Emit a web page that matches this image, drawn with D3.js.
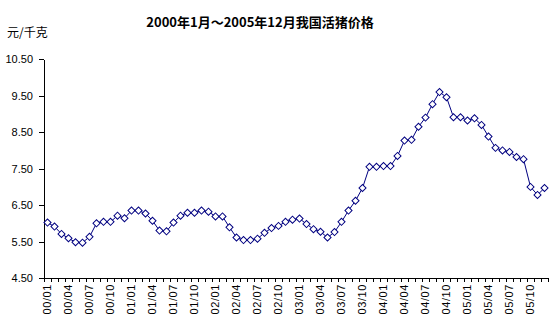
<!DOCTYPE html>
<html>
<head>
<meta charset="utf-8">
<script src="https://cdn.jsdelivr.net/npm/d3@7/dist/d3.min.js"></script>
<style>
  html, body { margin: 0; padding: 0; background: #fff; }
  svg { display: block; }
</style>
</head>
<body>
<svg id="chart" width="552" height="324"></svg>
<script>
// Live hog price, monthly, Jan 2000 – Dec 2005 (yuan per kg)
const titleText = "2000年1月～2005年12月我国活猪价格";
const unitText = "元/千克";
const years = ["00", "01", "02", "03", "04", "05"];
const months = ["01", "02", "03", "04", "05", "06", "07", "08", "09", "10", "11", "12"];
const categories = years.flatMap(y => months.map(m => y + "/" + m));
const prices = [
  6.02, 5.91, 5.71, 5.59, 5.48, 5.47, 5.63, 6.00, 6.04, 6.04, 6.21, 6.14,
  6.35, 6.35, 6.27, 6.07, 5.80, 5.78, 6.02, 6.21, 6.29, 6.29, 6.35, 6.32,
  6.19, 6.19, 5.89, 5.61, 5.54, 5.54, 5.58, 5.74, 5.87, 5.93, 6.04, 6.10,
  6.13, 5.98, 5.84, 5.77, 5.61, 5.76, 6.04, 6.35, 6.62, 6.97, 7.55, 7.55,
  7.57, 7.57, 7.85, 8.27, 8.29, 8.65, 8.90, 9.27, 9.60, 9.46, 8.91, 8.91,
  8.82, 8.88, 8.70, 8.38, 8.07, 8.00, 7.96, 7.82, 7.76, 7.00, 6.78, 6.97
];
const yTicks = [4.5, 5.5, 6.5, 7.5, 8.5, 9.5, 10.5];

const svg = d3.select("#chart");
const plotLeft = 44, plotRight = 548, plotTop = 59.3, plotBottom = 278;

const x = d3.scaleBand().domain(categories).range([plotLeft, plotRight]).padding(0);
const xEdge = d3.scaleLinear().domain([0, categories.length]).range([plotLeft, plotRight]);
const y = d3.scaleLinear().domain([4.5, 10.5]).range([plotBottom, plotTop]);
const cx = d => x(d) + x.bandwidth() / 2;

// Title and unit
svg.append("text")
  .attr("x", 260).attr("y", 27)
  .attr("text-anchor", "middle")
  .style("font-family", "'Noto Sans CJK SC', sans-serif")
  .style("font-weight", "bold")
  .style("font-size", "13px")
  .text(titleText);

svg.append("text")
  .attr("x", 7).attr("y", 37)
  .style("font-family", "'Noto Sans CJK SC', sans-serif")
  .style("font-size", "12px")
  .text(unitText);

// Y axis
const yAxis = svg.append("g")
  .attr("transform", `translate(${plotLeft},0)`)
  .call(d3.axisLeft(y).tickValues(yTicks).tickFormat(d3.format(".2f")).tickSize(5).tickPadding(6).tickSizeOuter(0));
yAxis.selectAll("text")
  .style("font-family", "'Liberation Sans', Arial, sans-serif")
  .style("font-size", "11px")
  .attr("fill", "#000");
yAxis.selectAll("line, path").attr("stroke", "#000").attr("shape-rendering", "crispEdges");

// X axis: tick marks on category boundaries
const xAxis = svg.append("g")
  .attr("transform", `translate(0,${plotBottom})`)
  .call(d3.axisBottom(xEdge).tickValues(d3.range(categories.length + 1)).tickFormat("").tickSize(4).tickSizeOuter(0));
xAxis.selectAll("line, path").attr("stroke", "#000").attr("shape-rendering", "crispEdges");

// X labels every third month, rotated
svg.append("g")
  .selectAll("text")
  .data(categories.filter((d, i) => i % 3 === 0))
  .join("text")
  .attr("transform", d => `translate(${cx(d)},${plotBottom + 6}) rotate(-90)`)
  .attr("text-anchor", "end")
  .attr("dy", "0.35em")
  .style("font-family", "'Liberation Sans', Arial, sans-serif")
  .style("font-size", "11px")
  .style("letter-spacing", "0.6px")
  .text(d => d);

// Price line
const series = categories.map((c, i) => ({ c, v: prices[i] }));
svg.append("path")
  .datum(series)
  .attr("fill", "none")
  .attr("stroke", "#000080")
  .attr("stroke-width", 1)
  .attr("d", d3.line().x(d => cx(d.c)).y(d => y(d.v)));

// Hollow diamond markers
const diamond = d3.symbol(d3.symbolSquare, 25);
svg.append("g")
  .selectAll("path")
  .data(series)
  .join("path")
  .attr("d", diamond)
  .attr("transform", d => `translate(${cx(d.c)},${y(d.v)}) rotate(45)`)
  .attr("fill", "#fff")
  .attr("stroke", "#000080")
  .attr("stroke-width", 1);
</script>
</body>
</html>
